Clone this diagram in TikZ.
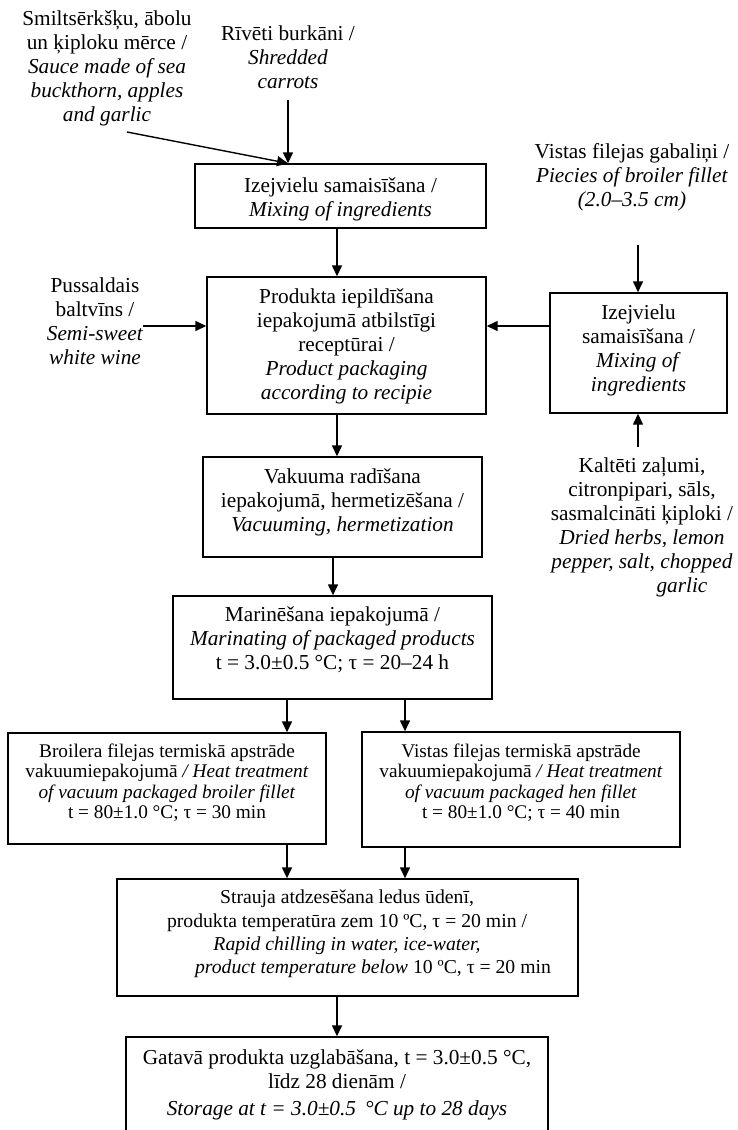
\documentclass[tikz,border=0pt]{standalone}
\usepackage{fontspec}
\setmainfont{Liberation Serif}
\usetikzlibrary{arrows.meta}
\begin{document}
\begin{tikzpicture}[x=1pt,y=-1pt,
  box/.style={draw, line width=1.4pt, inner sep=0pt},
  big/.style={font=\fontsize{21.3}{24}\selectfont, align=center, inner sep=0pt},
  small/.style={font=\fontsize{19.3}{20.5}\selectfont, align=center, inner sep=0pt},
  mid/.style={font=\fontsize{19.7}{23.3}\selectfont, align=center, inner sep=0pt},
  arr/.style={line width=1.4pt, -{Triangle[length=11pt,width=10pt]}}]
\useasboundingbox (0,0) rectangle (737,1130);
\clip (0,0) rectangle (737,1130);

% boxes
\node[box, minimum width=291pt, minimum height=64pt]  (b1)  at (340.5,196) {};
\node[box, minimum width=279pt, minimum height=137pt] (b2)  at (346.5,345.5) {};
\node[box, minimum width=279pt, minimum height=100pt] (b3)  at (342.5,507) {};
\node[box, minimum width=319pt, minimum height=103pt] (mar) at (332.5,647.5) {};
\node[box, minimum width=177pt, minimum height=120pt] (bR)  at (638.5,353) {};
\node[box, minimum width=318pt, minimum height=111pt] (bL)  at (167,788.5) {};
\node[box, minimum width=318pt, minimum height=115pt] (bV)  at (521,789.5) {};
\node[box, minimum width=461pt, minimum height=117pt] (bS)  at (347.5,937.5) {};
\node[box, minimum width=422pt, minimum height=103pt] (bF)  at (337,1088.5) {};

% texts in boxes
\node[big] (t1) at (340.5,199) {Izejvielu samaisīšana /\\ \textit{Mixing of ingredients}};
\node[big] (t2) at (346.5,346.5) {Produkta iepildīšana\\ iepakojumā atbilstīgi\\ receptūrai /\\ \textit{Product packaging}\\ \textit{according to recipie}};
\node[big] (t3) at (342.5,502) {Vakuuma radīšana\\ iepakojumā, hermetizēšana /\\ \textit{Vacuuming, hermetization}};
\node[big] (tm) at (332.5,640) {Marinēšana iepakojumā /\\ \textit{Marinating of packaged products}\\ t = 3.0±0.5 °C; τ = 20–24 h};
\node[big] (tR) at (638.5,350.5) {Izejvielu\\ samaisīšana /\\ \textit{Mixing of}\\ \textit{ingredients}};
\node[small] (tL) at (167,782.5) {Broilera filejas termiskā apstrāde\\ vakuumiepakojumā \textit{/ Heat treatment}\\ \textit{of vacuum packaged broiler fillet}\\ t = 80±1.0 °C; τ = 30 min};
\node[small] (tV) at (521,782.5) {Vistas filejas termiskā apstrāde\\ vakuumiepakojumā \textit{/ Heat treatment}\\ \textit{of vacuum packaged hen fillet}\\ t = 80±1.0 °C; τ = 40 min};
\node[mid] (tS) at (347,934) {Strauja atdzesēšana ledus ūdenī,\\ produkta temperatūra zem 10 ºC, τ = 20 min /\\ \textit{Rapid chilling in water, ice-water,}\\ \hspace*{52pt}\textit{product temperature below} 10 ºC, τ = 20 min};
\node[big] (tF) at (337,1085) {Gatavā produkta uzglabāšana, t = 3.0±0.5 °C,\\ līdz 28 dienām /\\[3pt] \textit{Storage at t = 3.0±0.5 \,°C up to 28 days}};

% free texts
\node[big] (sm) at (107,68) {Smiltsērkšķu, ābolu\\ un ķiploku mērce /\\ \textit{Sauce made of sea}\\ \textit{buckthorn, apples}\\ \textit{and garlic}};
\node[big] (rv) at (288,57) {Rīvēti burkāni /\\ \textit{Shredded}\\ \textit{carrots}};
\node[big] (pu) at (95,321) {Pussaldais\\ baltvīns /\\ \textit{Semi-sweet}\\ \textit{white wine}};
\node[big] (vg) at (632,177) {Vistas filejas gabaliņi /\\ \textit{Piecies of broiler fillet}\\ \textit{(2.0–3.5 cm)}};
\node[big] (ka) at (642,527) {Kaltēti zaļumi,\\ citronpipari, sāls,\\ sasmalcināti ķiploki /\\ \textit{Dried herbs, lemon}\\ \textit{pepper, salt, chopped}\\ \hspace*{80pt}\textit{garlic}};

% connector coordinates
\coordinate (csm) at (127,132);
\coordinate (crv) at (288,100);
\coordinate (cpu) at (143,326);
\coordinate (cvg) at (638,245);
\coordinate (cka) at (638,447);
\coordinate (x337) at (337,0);
\coordinate (x333) at (333,0);
\coordinate (x287) at (287,0);
\coordinate (x405) at (405,0);

% connectors
\draw[arr] (crv) -- (crv |- b1.north);
\draw[arr] (csm) -- (crv |- b1.north);
\draw[arr] (b1.south -| x337) -- (b2.north -| x337);
\draw[arr] (cpu) -- (cpu -| b2.west);
\draw[arr] (bR.west |- cpu) -- (b2.east |- cpu);
\draw[arr] (cvg) -- (cvg |- bR.north);
\draw[arr] (cka) -- (cka |- bR.south);
\draw[arr] (b2.south -| x337) -- (b3.north -| x337);
\draw[arr] (b3.south -| x333) -- (mar.north -| x333);
\draw[arr] (mar.south -| x287) -- (bL.north -| x287);
\draw[arr] (mar.south -| x405) -- (bV.north -| x405);
\draw[arr] (bL.south -| x287) -- (bS.north -| x287);
\draw[arr] (bV.south -| x405) -- (bS.north -| x405);
\draw[arr] (bS.south -| x337) -- (bF.north -| x337);
\end{tikzpicture}
\end{document}
